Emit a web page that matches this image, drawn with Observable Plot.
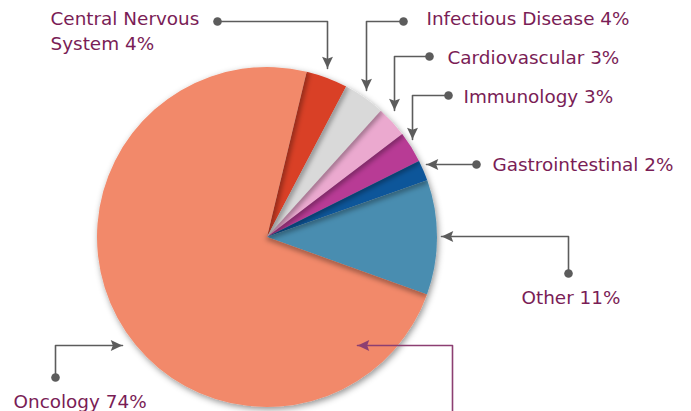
<!DOCTYPE html>
<html><head><meta charset="utf-8">
<script src="https://cdn.jsdelivr.net/npm/d3@7"></script>
<script src="https://cdn.jsdelivr.net/npm/@observablehq/plot@0.6"></script>
<style>html,body{margin:0;padding:0;background:#fff;} #chart svg{display:block;}</style>
</head><body><div id="chart"></div>
<script>
// ---- data ----
const categories = ["Central Nervous System", "Infectious Disease", "Cardiovascular", "Immunology", "Gastrointestinal", "Other", "Oncology"];
const shares = [4, 4, 3, 3, 2, 11, 74];
const labels = ["Central Nervous\nSystem 4%", "Infectious Disease 4%", "Cardiovascular 3%", "Immunology 3%", "Gastrointestinal 2%", "Other 11%", "Oncology 74%"];

// ---- styles / layout ----
const colors = ["#d93f28", "#d9d9d9", "#eba9cf", "#b83a95", "#11579a", "#4a8db0", "#f2896a"];
const pieLayout = {cx: 267, cy: 237, r: 170, startDeg: 13.5};
const labelLayout = [
  {tx: 50,  ty: 29,  path: [[217, 21], [327, 21], [327, 68]]},
  {tx: 426, ty: 17,  path: [[403, 21], [366, 21], [366, 90]]},
  {tx: 447, ty: 56,  path: [[429, 56], [394, 56], [394, 110]]},
  {tx: 463, ty: 95,  path: [[448, 95], [412, 95], [412, 139]]},
  {tx: 492, ty: 163, path: [[476, 164], [426, 164]]},
  {tx: 521, ty: 296, path: [[568, 273], [568, 236], [441, 236]]},
  {tx: 13,  ty: 400, path: [[55, 377], [55, 345], [122, 345]]}
];
const extraPath = [[452, 425], [452, 345], [357, 345]];
const textColor = "#7a1d56";
const leaderColor = "#5c5c5c";
const plumColor = "#8c3f72";

const rows = categories.map((c, i) => ({category: c, share: shares[i], color: colors[i], label: labels[i]}));

// notched arrowhead symbol (points up, centered)
const arrowSymbol = {
  draw(ctx, size) {
    const u = Math.sqrt(size / (Math.PI * 16));
    ctx.moveTo(0, -6 * u);
    ctx.lineTo(5.2 * u, 5 * u);
    ctx.lineTo(0, 3 * u);
    ctx.lineTo(-5.2 * u, 5 * u);
    ctx.closePath();
  }
};

function buildLeaders(paths, color) {
  const segs = [], heads = [], dots = [];
  paths.forEach((p, id) => {
    p.forEach(([x, y]) => segs.push({id, x, y, color}));
    const [x1, y1] = p[p.length - 2], [x2, y2] = p[p.length - 1];
    const len = Math.hypot(x2 - x1, y2 - y1);
    const ux = (x2 - x1) / len, uy = (y2 - y1) / len;
    heads.push({x: x2 - ux * 6.5, y: y2 - uy * 6.5, rot: Math.atan2(ux, -uy) * 180 / Math.PI, color});
    dots.push({x: p[0][0], y: p[0][1], color});
  });
  return {segs, heads, dots};
}
const grey = buildLeaders(labelLayout.map(d => d.path), leaderColor);
const plum = buildLeaders([extraPath], plumColor);

function pieMark(index, scales) {
  const cx = scales.x(pieLayout.cx), cy = scales.y(pieLayout.cy);
  const r = scales.x(pieLayout.cx + pieLayout.r) - cx;
  const a0 = pieLayout.startDeg * Math.PI / 180;
  const arcs = d3.pie().sort(null).value(d => d.share).startAngle(a0).endAngle(a0 + 2 * Math.PI)(rows);
  const arc = d3.arc().innerRadius(0).outerRadius(r);
  const root = d3.create("svg:g");
  const defs = root.append("defs");
  const f = defs.append("filter").attr("id", "pie-shadow").attr("x", "-20%").attr("y", "-20%").attr("width", "140%").attr("height", "140%");
  f.append("feDropShadow").attr("dx", 1.5).attr("dy", 2.5).attr("stdDeviation", 3).attr("flood-color", "#000").attr("flood-opacity", 0.42);
  defs.append("filter").attr("id", "edge-blur").attr("x", "-50%").attr("y", "-50%").attr("width", "200%").attr("height", "200%")
    .append("feGaussianBlur").attr("stdDeviation", 2.5);
  const g = root.append("g").attr("transform", `translate(${cx},${cy})`);
  g.append("g").attr("filter", "url(#pie-shadow)")
    .selectAll("path").data(arcs).join("path")
    .attr("d", arc).attr("fill", d => d.data.color);
  arcs.forEach((a, i) => {
    defs.append("clipPath").attr("id", "slice-clip-" + i).append("path").attr("d", arc(a));
    const t = a.startAngle;
    g.append("g").attr("clip-path", `url(#slice-clip-${i})`)
      .append("line")
      .attr("x1", 0).attr("y1", 0)
      .attr("x2", r * Math.sin(t)).attr("y2", -r * Math.cos(t))
      .attr("stroke", "#000").attr("stroke-opacity", 0.35).attr("stroke-width", 6)
      .attr("filter", "url(#edge-blur)");
  });
  return root.node();
}

const chart = Plot.plot({
  width: 691,
  height: 411,
  margin: 0,
  x: {domain: [0, 691], range: [0, 691], axis: null},
  y: {domain: [0, 411], range: [0, 411], axis: null},
  style: {background: "#fff"},
  marks: [
    pieMark,
    Plot.line(plum.segs, {x: "x", y: "y", z: "id", stroke: plumColor, strokeWidth: 1.6}),
    Plot.dot(plum.heads, {x: "x", y: "y", symbol: arrowSymbol, r: 4.2, rotate: "rot", fill: plumColor, stroke: "none"}),
    Plot.line(grey.segs, {x: "x", y: "y", z: "id", stroke: leaderColor, strokeWidth: 1.6}),
    Plot.dot(grey.heads, {x: "x", y: "y", symbol: arrowSymbol, r: 4.2, rotate: "rot", fill: leaderColor, stroke: "none"}),
    Plot.dot(grey.dots, {x: "x", y: "y", r: 4.3, fill: leaderColor, stroke: "none"}),
    Plot.text(rows, {
      x: (d, i) => labelLayout[i].tx,
      y: (d, i) => labelLayout[i].ty,
      text: "label",
      textAnchor: "start",
      lineAnchor: "middle",
      lineHeight: 1.33,
      fill: textColor,
      fontSize: 18.4,
      fontFamily: "DejaVu Sans"
    })
  ]
});
document.getElementById("chart").append(chart);
</script>
</body></html>
